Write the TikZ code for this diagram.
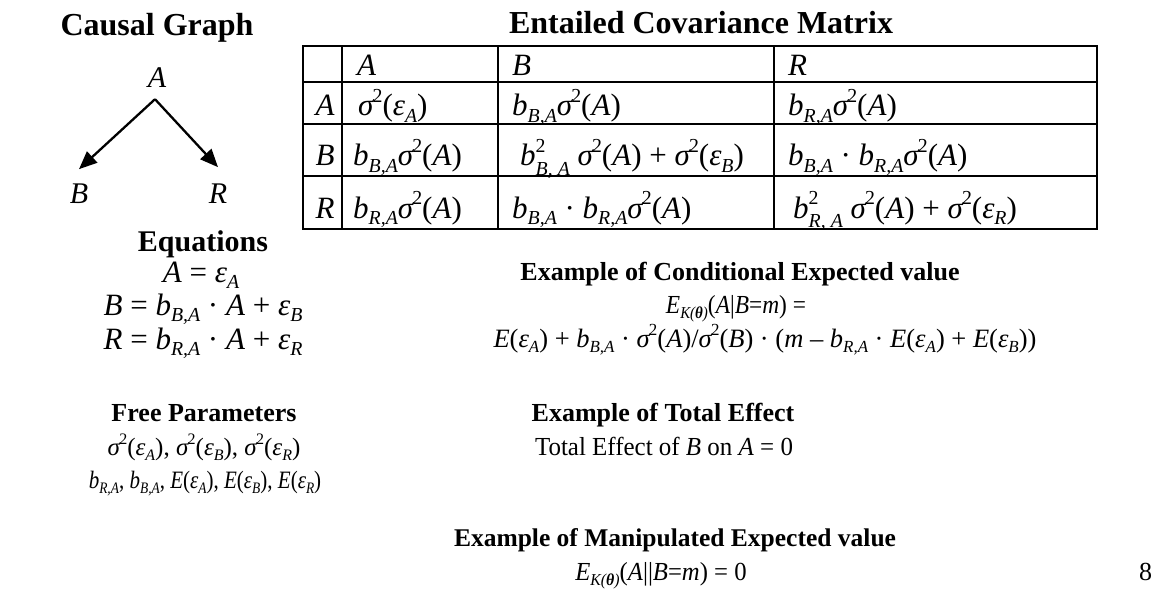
\documentclass[tikz,border=0pt]{standalone}
\usepackage{fontspec}
\usepackage{graphicx}
\setmainfont{Liberation Serif}
\usetikzlibrary{arrows.meta}
\newcommand{\sbs}[1]{\raisebox{-0.2em}{\scalebox{0.64}{\itshape #1}}}
\newcommand{\spr}{\raisebox{0.42em}{\scalebox{0.64}{2}}}
\newcommand{\sig}{\textit{σ}\kern-0.06em\spr}
\newcommand{\eps}[1]{\textit{ε}\sbs{#1}}
\newcommand{\bco}[1]{\textit{b}\sbs{#1}}
\newcommand{\bsq}[1]{\textit{b}\rlap{\raisebox{0.42em}{\scalebox{0.64}{2}}}\raisebox{-0.32em}{\scalebox{0.64}{\itshape #1}}}
\newcommand{\EK}{\textit{E}\sbs{K(\textbf{θ})}}
\newcommand{\hsq}[2]{\scalebox{#1}[1]{#2}}
\begin{document}
\begin{tikzpicture}[x=1pt,y=-1pt,
  big/.style={font=\fontsize{32}{36}\selectfont\bfseries, anchor=base, inner sep=0pt},
  head/.style={font=\fontsize{26}{30}\selectfont\bfseries, anchor=base, inner sep=0pt},
  body/.style={font=\fontsize{26}{30}\selectfont, anchor=base, inner sep=0pt},
  eqn/.style={font=\fontsize{31}{35}\selectfont, anchor=base, inner sep=0pt},
  cell/.style={font=\fontsize{31}{35}\selectfont, anchor=base west, inner sep=0pt},
  rowlab/.style={font=\fontsize{31}{35}\selectfont\itshape, anchor=base, inner sep=0pt},
  var/.style={font=\fontsize{30}{34}\selectfont\itshape, anchor=base, inner sep=2pt},
  arr/.style={line width=2.3pt, -{Triangle[length=18pt,width=15pt]}},
  grid/.style={line width=2.6pt}]
\useasboundingbox (0,0) rectangle (1158,604);

% Causal graph
\node[big] (tcg) at (157,36) {Causal Graph};
\node[var] (A) at (157,88) {A};
\node[var] (B) at (79,203) {B};
\node[var] (R) at (218,203) {R};
\draw[arr] ([xshift=-2pt,yshift=-9pt]A.south) -- ([yshift=12pt]B.north);
\draw[arr] ([xshift=-2pt,yshift=-9pt]A.south) -- ([yshift=14pt]R.north);

% Covariance matrix
\node[big] (tcm) at (701,34) {Entailed Covariance Matrix};
\draw[grid] (303,46) rectangle (1097,229);
\draw[grid] (303,82) -- (1097,82) (303,124) -- (1097,124) (303,176) -- (1097,176);
\draw[grid] (342,46) -- (342,229) (498,46) -- (498,229) (774,46) -- (774,229);

\node[cell] (hA) at (357,76) {\textit{A}};
\node[cell] (hB) at (512,76) {\textit{B}};
\node[cell] (hR) at (788,76) {\textit{R}};

\node[rowlab] (rA) at (325,116) {A};
\node[cell] (cAA) at (358,116) {\sig(\eps{A})};
\node[cell] (cAB) at (512,116) {\bco{B,A}\sig(\textit{A})};
\node[cell] (cAR) at (788,116) {\bco{R,A}\sig(\textit{A})};

\node[rowlab] (rB) at (325,166) {B};
\node[cell] (cBA) at (353,166) {\bco{B,A}\sig(\textit{A})};
\node[cell] (cBB) at (520,166) {\bsq{B, A} \sig(\textit{A}) + \sig(\eps{B})};
\node[cell] (cBR) at (788,166) {\bco{B,A} · \bco{R,A}\sig(\textit{A})};

\node[rowlab] (rR) at (325,218) {R};
\node[cell] (cRA) at (353,218) {\bco{R,A}\sig(\textit{A})};
\node[cell] (cRB) at (512,218) {\bco{B,A} · \bco{R,A}\sig(\textit{A})};
\node[cell] (cRR) at (793,218) {\bsq{R, A} \sig(\textit{A}) + \sig(\eps{R})};

% Equations
\node[big, font=\fontsize{30}{34}\selectfont\bfseries] (teq) at (203,251) {Equations};
\node[eqn] (eq1) at (201,282) {\textit{A} = \eps{A}};
\node[eqn] (eq2) at (203,315) {\textit{B} = \bco{B,A} · \textit{A} + \eps{B}};
\node[eqn] (eq3) at (203,349) {\textit{R} = \bco{R,A} · \textit{A} + \eps{R}};

% Conditional expected value
\node[head] (tce) at (740,280) {Example of Conditional Expected value};
\node[body] (ce1) at (736,313) {\hsq{0.9}{\EK(\textit{A}|\textit{B}=\textit{m}) =}};
\node[body, font=\fontsize{26.5}{30}\selectfont] (ce2) at (765,347) {\textit{E}(\eps{A}) + \bco{B,A} · \sig(\textit{A})/\sig(\textit{B}) · (\textit{m} – \bco{R,A} · \textit{E}(\eps{A}) + \textit{E}(\eps{B}))};

% Free parameters
\node[head] (tfp) at (204,421) {Free Parameters};
\node[body, font=\fontsize{25}{29}\selectfont] (fp1) at (204,455) {\sig(\eps{A}), \sig(\eps{B}), \sig(\eps{R})};
\node[body, font=\fontsize{25}{29}\selectfont] (fp2) at (205,488) {\hsq{0.84}{\bco{R,A}, \bco{B,A}, \textit{E}(\eps{A}), \textit{E}(\eps{B}), \textit{E}(\eps{R})}};

% Total effect
\node[head] (tte) at (663,421) {Example of Total Effect};
\node[body] (te1) at (664,455) {\hsq{0.96}{Total Effect of \textit{B} on \textit{A} = 0}};

% Manipulated expected value
\node[head, font=\fontsize{25.5}{30}\selectfont\bfseries] (tme) at (675,546) {Example of Manipulated Expected value};
\node[body] (me1) at (661,580) {\hsq{0.95}{\EK(\textit{A}||\textit{B}=\textit{m}) = 0}};

\node[body, anchor=base west] (pg) at (1139,580) {8};
\end{tikzpicture}
\end{document}
